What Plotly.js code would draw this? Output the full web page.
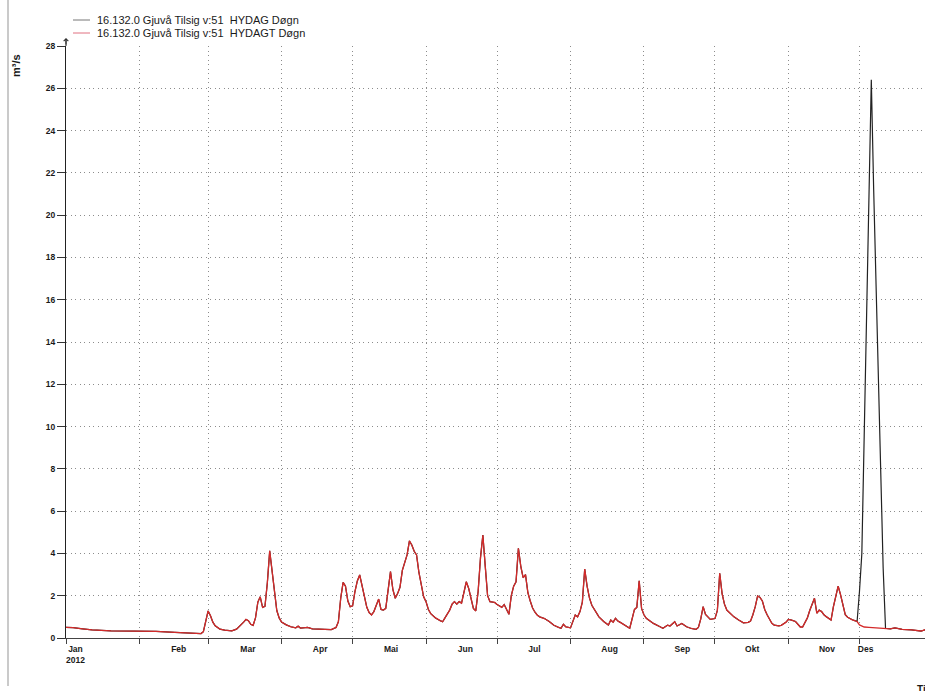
<!DOCTYPE html>
<html>
<head>
<meta charset="utf-8">
<script src="https://cdn.plot.ly/plotly-3.0.1.min.js"></script>
<style>
  html, body { margin: 0; padding: 0; background: #ffffff; }
  #chart { width: 925px; height: 691px; }
</style>
</head>
<body>
<div id="chart"></div>
<script>
// ---------------- DATA ----------------
const seriesNames = [
  '16.132.0 Gjuvå Tilsig v:51\u00a0 HYDAG Døgn',
  '16.132.0 Gjuvå Tilsig v:51\u00a0 HYDAGT Døgn'
];

// HYDAGT Døgn (red) – daily discharge, m³/s
const hydagtDates = [
  '2012-01-01','2012-01-04','2012-01-08','2012-01-12','2012-01-20','2012-01-31',
  '2012-02-02','2012-02-08','2012-02-16','2012-02-24','2012-02-27','2012-02-28','2012-02-29',
  '2012-03-01','2012-03-02','2012-03-03','2012-03-04','2012-03-06','2012-03-08','2012-03-11','2012-03-13','2012-03-14','2012-03-16','2012-03-17','2012-03-18','2012-03-19','2012-03-20','2012-03-21','2012-03-22','2012-03-23','2012-03-24','2012-03-25','2012-03-26','2012-03-27','2012-03-28','2012-03-29','2012-03-30','2012-03-31',
  '2012-04-01','2012-04-03','2012-04-05','2012-04-07','2012-04-08','2012-04-09','2012-04-12','2012-04-14','2012-04-17','2012-04-20','2012-04-22','2012-04-24','2012-04-25','2012-04-26','2012-04-27','2012-04-28','2012-04-29','2012-04-30',
  '2012-05-01','2012-05-02','2012-05-03','2012-05-04','2012-05-05','2012-05-06','2012-05-07','2012-05-08','2012-05-09','2012-05-10','2012-05-11','2012-05-12','2012-05-13','2012-05-14','2012-05-15','2012-05-16','2012-05-17','2012-05-18','2012-05-19','2012-05-20','2012-05-21','2012-05-22','2012-05-23','2012-05-24','2012-05-25','2012-05-26','2012-05-27','2012-05-28','2012-05-29','2012-05-30','2012-05-31',
  '2012-06-01','2012-06-02','2012-06-03','2012-06-04','2012-06-05','2012-06-07','2012-06-08','2012-06-09','2012-06-10','2012-06-11','2012-06-12','2012-06-13','2012-06-14','2012-06-15','2012-06-16','2012-06-17','2012-06-18','2012-06-19','2012-06-20','2012-06-21','2012-06-22','2012-06-23','2012-06-24','2012-06-25','2012-06-26','2012-06-27','2012-06-28','2012-06-29','2012-06-30',
  '2012-07-01','2012-07-02','2012-07-03','2012-07-04','2012-07-05','2012-07-06','2012-07-07','2012-07-08','2012-07-09','2012-07-10','2012-07-11','2012-07-12','2012-07-13','2012-07-14','2012-07-15','2012-07-16','2012-07-17','2012-07-18','2012-07-19','2012-07-21','2012-07-23','2012-07-25','2012-07-27','2012-07-28','2012-07-29','2012-07-30',
  '2012-08-01','2012-08-02','2012-08-03','2012-08-04','2012-08-05','2012-08-06','2012-08-07','2012-08-08','2012-08-09','2012-08-10','2012-08-11','2012-08-13','2012-08-15','2012-08-17','2012-08-18','2012-08-19','2012-08-20','2012-08-21','2012-08-22','2012-08-24','2012-08-26','2012-08-27','2012-08-28','2012-08-29','2012-08-30','2012-08-31',
  '2012-09-01','2012-09-02','2012-09-04','2012-09-05','2012-09-08','2012-09-09','2012-09-11','2012-09-12','2012-09-14','2012-09-15','2012-09-17','2012-09-19','2012-09-21','2012-09-23','2012-09-24','2012-09-25','2012-09-26','2012-09-27','2012-09-28','2012-09-29','2012-09-30',
  '2012-10-01','2012-10-02','2012-10-03','2012-10-04','2012-10-05','2012-10-06','2012-10-07','2012-10-09','2012-10-11','2012-10-13','2012-10-15','2012-10-16','2012-10-17','2012-10-18','2012-10-19','2012-10-20','2012-10-21','2012-10-22','2012-10-23','2012-10-24','2012-10-25','2012-10-26','2012-10-28','2012-10-29','2012-10-31',
  '2012-11-01','2012-11-02','2012-11-04','2012-11-06','2012-11-07','2012-11-08','2012-11-09','2012-11-10','2012-11-11','2012-11-12','2012-11-13','2012-11-14','2012-11-15','2012-11-16','2012-11-17','2012-11-18','2012-11-19','2012-11-20','2012-11-21','2012-11-22','2012-11-23','2012-11-24','2012-11-25','2012-11-26','2012-11-27','2012-11-28','2012-11-29','2012-11-30',
  '2012-12-01','2012-12-03','2012-12-05','2012-12-08','2012-12-11','2012-12-14','2012-12-16','2012-12-19','2012-12-23','2012-12-27','2012-12-29','2012-12-31'
];
const hydagtValues = [
  0.50,0.49,0.43,0.38,0.34,0.33,
  0.35,0.31,0.27,0.22,0.21,0.30,0.80,
  1.28,1.05,0.75,0.58,0.42,0.37,0.34,0.42,0.52,0.75,0.88,0.82,0.65,0.60,0.95,1.70,1.95,1.45,1.50,2.60,4.12,3.20,2.19,1.30,0.95,
  0.75,0.62,0.53,0.48,0.56,0.47,0.50,0.43,0.42,0.38,0.40,0.50,0.77,1.90,2.63,2.45,1.75,1.48,
  1.52,2.20,2.70,2.98,2.45,2.00,1.45,1.20,1.09,1.25,1.55,1.84,1.35,1.32,1.40,2.20,3.14,2.30,1.88,2.10,2.40,3.20,3.60,3.93,4.59,4.40,4.10,3.93,3.10,2.43,1.95,
  1.72,1.35,1.15,1.05,0.95,0.82,0.77,0.95,1.15,1.32,1.60,1.72,1.60,1.72,1.65,2.10,2.66,2.35,1.90,1.40,1.28,2.20,3.80,4.87,3.40,2.00,1.72,1.70,1.68,
  1.58,1.50,1.45,1.58,1.35,1.12,2.00,2.45,2.66,4.24,3.40,2.85,3.00,2.15,1.75,1.42,1.22,1.08,1.00,0.92,0.78,0.60,0.50,0.46,0.65,0.53,
  0.48,0.77,1.09,1.00,1.25,1.70,3.26,2.45,1.90,1.55,1.35,1.00,0.78,0.61,0.85,0.75,0.93,0.80,0.74,0.62,0.46,0.90,1.35,1.45,2.71,1.40,
  1.10,0.93,0.75,0.69,0.52,0.46,0.61,0.57,0.77,0.57,0.69,0.53,0.45,0.41,0.50,0.90,1.48,1.12,1.00,0.88,0.90,
  0.92,1.30,3.06,2.10,1.60,1.32,1.20,1.00,0.85,0.72,0.74,0.80,1.10,1.48,1.99,1.92,1.75,1.35,1.10,0.90,0.70,0.61,0.57,0.60,0.75,
  0.88,0.86,0.78,0.52,0.52,0.72,0.95,1.30,1.60,1.88,1.17,1.32,1.25,1.10,1.01,0.92,0.85,1.48,2.00,2.45,2.05,1.60,1.10,0.98,0.90,0.86,0.82,0.78,
  0.62,0.52,0.50,0.48,0.46,0.43,0.48,0.41,0.38,0.33,0.40,0.38
];

// HYDAG Døgn (black) – identical to HYDAGT except for the December flood peak
const hydagPeakDates = [
  '2012-12-01','2012-12-02','2012-12-03','2012-12-04','2012-12-05','2012-12-06',
  '2012-12-07','2012-12-08','2012-12-09','2012-12-10','2012-12-11','2012-12-12'
];
const hydagPeakValues = [2.2,4.0,9.6,15.4,21.2,26.4,21.2,16.7,12.3,7.9,3.3,0.46];

// Axis ticks and labels
const monthLabels = ['Jan<br>2012','Feb','Mar','Apr','Mai','Jun','Jul','Aug','Sep','Okt','Nov','Des'];
const monthLabelDates = [
  '2012-01-05','2012-02-17 14:00','2012-03-17 19:00','2012-04-17 07:00','2012-05-17 05:00','2012-06-17 14:00',
  '2012-07-16 19:00','2012-08-17 12:00','2012-09-17 05:00','2012-10-16 17:00','2012-11-17 07:00','2012-12-03 14:00'
];
const xRange = ['2012-01-01', '2012-12-28 16:00'];
const yRange = [0, 28];
const yTickStep = 2;
const yUnit = 'm³/s';
const xTitle = 'Tid';

// ---------------- BUILD ----------------
const peakStart = hydagPeakDates[0];
const peakEnd = hydagPeakDates[hydagPeakDates.length - 1];
const hydagPts = [];
hydagtDates.forEach((d, i) => { if (d < peakStart || d > peakEnd) hydagPts.push([d, hydagtValues[i]]); });
hydagPeakDates.forEach((d, i) => hydagPts.push([d, hydagPeakValues[i]]));
hydagPts.sort((a, b) => (a[0] < b[0] ? -1 : a[0] > b[0] ? 1 : 0));

const COL_BLACK = '#222222';
const COL_RED = '#d42a2a';
const FONT = 'Liberation Sans, Arial, Helvetica, sans-serif';

// pixel helpers for layout decorations (plot area: x 66..925, y 46..638)
const W = 925, H = 691, ML = 66, MT = 46, MB = 53;
const PW = W - ML, PH = H - MT - MB;
const px = x => (x - ML) / PW;
const py = y => (H - MB - y) / PH;

const traces = [
  {
    x: hydagPts.map(p => p[0]), y: hydagPts.map(p => p[1]),
    type: 'scatter', mode: 'lines', name: seriesNames[0],
    line: { color: COL_BLACK, width: 1.2 }, showlegend: false, xaxis: 'x', yaxis: 'y'
  },
  {
    x: hydagtDates, y: hydagtValues,
    type: 'scatter', mode: 'lines', name: seriesNames[1],
    line: { color: COL_RED, width: 1.3 }, showlegend: false, xaxis: 'x', yaxis: 'y'
  },
  { x: [], y: [], type: 'scatter', mode: 'lines', xaxis: 'x2', yaxis: 'y', showlegend: false, hoverinfo: 'skip' }
];

const gridDash = '1px,3.5px';
const layout = {
  width: W, height: H,
  margin: { l: ML, r: 0, t: MT, b: MB, pad: 0 },
  paper_bgcolor: '#ffffff', plot_bgcolor: '#ffffff',
  font: { family: FONT, color: '#1a1a1a', size: 11 },
  showlegend: false,
  xaxis: {
    type: 'date', range: xRange, tick0: '2012-01-01', dtick: 'M1',
    showticklabels: false, ticks: 'outside', ticklen: 5, tickcolor: '#444', tickwidth: 1,
    showgrid: true, gridcolor: '#8c8c8c', griddash: gridDash, gridwidth: 1,
    showline: true, linecolor: '#444', linewidth: 1, zeroline: false
  },
  xaxis2: {
    type: 'date', overlaying: 'x', anchor: 'y', side: 'bottom', range: xRange,
    tickmode: 'array', tickvals: monthLabelDates, ticktext: monthLabels,
    ticks: 'outside', ticklen: 3, tickcolor: 'rgba(0,0,0,0)',
    showgrid: false, showline: false, zeroline: false,
    tickfont: { family: FONT, size: 8.5, color: '#1a1a1a', weight: 'bold' }
  },
  yaxis: {
    range: yRange, dtick: yTickStep, tick0: 0,
    ticks: 'outside', ticklen: 8, tickcolor: '#333', tickwidth: 1,
    showgrid: true, gridcolor: '#8c8c8c', griddash: gridDash, gridwidth: 1,
    showline: true, linecolor: '#222', linewidth: 1, zeroline: false,
    tickfont: { family: FONT, size: 8.5, color: '#1a1a1a', weight: 'bold' }
  },
  shapes: [
    // panel border at left
    { type: 'line', xref: 'paper', yref: 'paper', x0: px(8), x1: px(8), y0: py(0), y1: py(686),
      line: { color: '#b8b8b8', width: 1.5 } },
    // y-axis extension above the top gridline
    { type: 'line', xref: 'paper', yref: 'paper', x0: 0, x1: 0, y0: 1, y1: py(39),
      line: { color: '#222', width: 1 } },
    // legend samples
    { type: 'line', xref: 'paper', yref: 'paper', x0: px(73), x1: px(90), y0: py(20), y1: py(20),
      line: { color: '#777', width: 1 } },
    { type: 'line', xref: 'paper', yref: 'paper', x0: px(73), x1: px(90), y0: py(33), y1: py(33),
      line: { color: '#e07080', width: 1 } }
  ],
  annotations: [
    { xref: 'paper', yref: 'paper', x: px(95), y: py(20), xanchor: 'left', yanchor: 'middle',
      text: seriesNames[0], showarrow: false, font: { family: FONT, size: 11, color: '#1a1a1a' } },
    { xref: 'paper', yref: 'paper', x: px(95), y: py(33), xanchor: 'left', yanchor: 'middle',
      text: seriesNames[1], showarrow: false, font: { family: FONT, size: 11, color: '#1a1a1a' } },
    // y unit
    { xref: 'paper', yref: 'paper', x: px(16), y: py(66), xanchor: 'center', yanchor: 'middle',
      text: yUnit, textangle: -90, showarrow: false, font: { family: FONT, size: 11, color: '#1a1a1a', weight: 'bold' } },
    // x title (cut off at the right edge, as in the original)
    { xref: 'paper', yref: 'paper', x: px(915), y: py(689), xanchor: 'left', yanchor: 'middle',
      text: xTitle, showarrow: false, font: { family: FONT, size: 10, color: '#1a1a1a', weight: 'bold' } },
    // arrow head on the y axis
    { xref: 'paper', yref: 'paper', x: 0, y: py(38), ax: 0, ay: 8, axref: 'pixel', ayref: 'pixel',
      text: '', showarrow: true, arrowhead: 4, arrowsize: 0.9, arrowwidth: 1, arrowcolor: '#222' }
  ]
};

Plotly.newPlot('chart', traces, layout, { staticPlot: true, displayModeBar: false });
</script>
</body>
</html>
